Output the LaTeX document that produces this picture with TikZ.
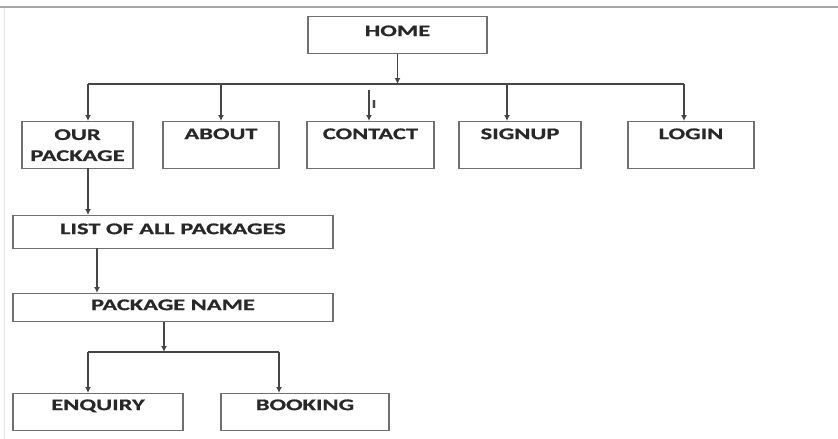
\documentclass[tikz,border=0pt]{standalone}
\usepackage{fontspec}
\usepackage{tikz}
\usetikzlibrary{arrows.meta,positioning,calc}
\newfontfamily\boxfont[FakeStretch=1.5,BoldFeatures={FakeBold=0.8}]{Carlito}
\definecolor{BoxGray}{RGB}{112,112,112}
\definecolor{LinkGray}{RGB}{70,70,70}
\definecolor{TextGray}{RGB}{40,40,40}

\tikzset{
  box/.style={draw=BoxGray,line width=1.3pt,inner sep=0pt,anchor=north,text=TextGray,
    font=\boxfont\bfseries\fontsize{16.3}{20}\selectfont},
  link/.style={draw=LinkGray,line width=1.2pt},
  tip/.style={link,-{Latex[length=6pt,width=6pt]}}
}

\begin{document}
\begin{tikzpicture}[x=1pt,y=-1pt]
  \useasboundingbox (0,0) rectangle (838,439);
  \draw[gray!70,line width=2.5pt] (0,7) -- (838,7);
  \draw[gray!20,line width=1pt] (4,8) -- (4,439);

  \node[box,minimum width=179pt,text height=19.5pt,text depth=17.5pt] (home) at (397.5,16) {HOME};

  \node[box,minimum width=111pt,minimum height=47pt,align=center] (pkg) at (77.5,121) {OUR\\[1pt]PACKAGE};
  \node[box,minimum width=116pt,text height=17.5pt,text depth=29.5pt] (about) at (221,121) {ABOUT};
  \node[box,minimum width=127pt,text height=17.5pt,text depth=29.5pt] (contact) at (370.5,121) {CONTACT};
  \node[box,minimum width=122pt,text height=17.5pt,text depth=29.5pt] (signup) at (520,121) {SIGNUP};
  \node[box,minimum width=126pt,text height=17.5pt,text depth=29.5pt] (login) at (691,121) {LOGIN};

  \node[box,minimum width=320pt,text height=18.5pt,text depth=14.5pt] (list) at (173,215) {LIST OF ALL PACKAGES};
  \node[box,minimum width=320pt,text height=16.5pt,text depth=11.5pt] (pname) at (173,293) {PACKAGE NAME};
  \node[box,minimum width=170pt,text height=16.5pt,text depth=20.5pt] (enquiry) at (98,393) {ENQUIRY};
  \node[box,minimum width=168pt,text height=16.5pt,text depth=20.5pt] (booking) at (305,393) {BOOKING};

  \coordinate (hub) at (397.5,84);
  \coordinate (d1) at (88,84);
  \coordinate (d2) at (221,84);
  \coordinate (d3) at (369,90);
  \coordinate (d4) at (507,84);
  \coordinate (d5) at (684,84);
  \draw[tip] (home.south) -- (hub);
  \draw[link] (d1) -- (d5);
  \draw[tip] (d1) -- (d1 |- pkg.north);
  \draw[tip] (d2) -- (d2 |- about.north);
  \draw[tip] (d3) -- (d3 |- contact.north);
  \draw[tip] (d4) -- (d4 |- signup.north);
  \draw[tip] (d5) -- (d5 |- login.north);
  \node[text=LinkGray,font=\boxfont\bfseries\fontsize{12}{12}\selectfont,inner sep=0pt] (cursor) at (374,104) {I};

  \coordinate (p1) at (88,168);
  \coordinate (p2) at (97,248);
  \draw[tip] (p1) -- (p1 |- list.north);
  \draw[tip] (p2) -- (p2 |- pname.north);

  \coordinate (hub2) at (164,352);
  \coordinate (e1) at (88,352);
  \coordinate (e2) at (279,352);
  \draw[tip] (hub2 |- pname.south) -- (hub2);
  \draw[link] (e1) -- (e2);
  \draw[tip] (e1) -- (e1 |- enquiry.north);
  \draw[tip] (e2) -- (e2 |- booking.north);
\end{tikzpicture}
\end{document}
